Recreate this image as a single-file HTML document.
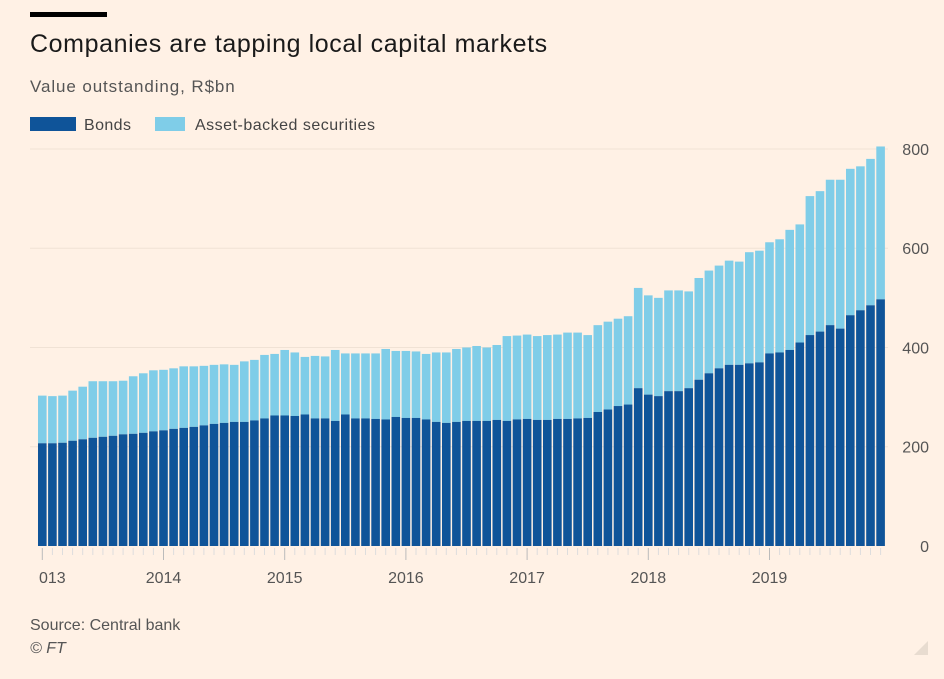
<!DOCTYPE html>
<html><head><meta charset="utf-8"><style>
body{margin:0;background:#fff1e5;font-family:"Liberation Sans",sans-serif;}
#wrap{position:relative;width:944px;height:679px;overflow:hidden;background:#fff1e5;}
</style></head><body>
<div id="wrap">
<div style="position:absolute;left:30px;top:12px;width:77px;height:5px;background:#000"></div>
<div style="position:absolute;left:30px;top:30px;font-size:25px;letter-spacing:0.6px;color:#1a1a1a">Companies are tapping local capital markets</div>
<div style="position:absolute;left:30px;top:77px;font-size:17px;letter-spacing:0.9px;color:#555">Value outstanding, R$bn</div>
<div style="position:absolute;left:30px;top:117px;font-size:16px;letter-spacing:0.4px;color:#444"><span style="display:inline-block;width:46px;height:14px;background:#0f5499;vertical-align:-1px;margin-right:8px"></span>Bonds</div>
<div style="position:absolute;left:155px;top:117px;font-size:16px;letter-spacing:0.5px;color:#444"><span style="display:inline-block;width:30px;height:14px;background:#7fcde8;vertical-align:-1px;margin-right:10px"></span>Asset-backed securities</div>
<svg id="chart" width="944" height="679" style="position:absolute;left:0;top:0"></svg>
<div style="position:absolute;left:30px;top:617px;font-size:16px;color:#555">Source: Central bank</div>
<div style="position:absolute;left:30px;top:640px;font-size:16px;color:#555;font-style:italic">© FT</div>
<div style="position:absolute;left:914px;top:641px;width:0;height:0;border-left:14px solid transparent;border-bottom:14px solid #e8dcd0"></div>
</div>
<script>
const totals=[303,302,303,313,321,332,332,332,333,342,348,354,355,358,362,362,363,365,366,365,372,375,385,387,395,390,381,383,382,395,388,388,388,388,397,393,393,392,387,390,390,397,400,403,400,405,423,424,426,423,425,426,430,430,425,445,452,458,463,520,505,500,515,515,513,540,555,565,575,573,592,595,612,618,637,648,705,715,738,738,760,765,780,805];
const bonds=[207,207,208,212,215,218,220,222,225,226,228,231,233,236,238,240,243,246,248,250,250,253,257,263,263,262,265,257,257,252,265,257,257,256,255,260,258,258,255,250,248,250,252,252,252,254,252,255,256,254,254,256,256,257,258,270,275,282,285,318,305,302,312,312,318,335,348,358,365,365,368,370,388,390,395,410,425,432,445,438,465,475,485,497];
const yTicks=[0,200,400,600,800];
const yearLabels=["013","2014","2015","2016","2017","2018","2019"];
const NS="http://www.w3.org/2000/svg";
const svg=document.getElementById('chart');
const x0=38,step=10.1,bw=8.6;
const y=v=>546-v*0.4963;
const x=i=>x0+i*step;
function el(t,a){const e=document.createElementNS(NS,t);for(const k in a)e.setAttribute(k,a[k]);svg.appendChild(e);return e;}
yTicks.forEach(t=>{
  if(t>0){const g=el('line',{x1:30,x2:888,y1:y(t),y2:y(t),stroke:'#f0e2d5','stroke-width':1});
  
  }
  const tx=el('text',{x:929,y:y(t)+6,'text-anchor':'end','font-size':16,fill:'#555','font-family':'Liberation Sans, sans-serif'});
  tx.textContent=t;
  
  
});
totals.forEach((tv,i)=>{
  const b=bonds[i];
  const r1=el('rect',{x:x(i),y:y(tv),width:bw,height:y(b)-y(tv),fill:'#7fcde8'});
  
  
  const r2=el('rect',{x:x(i),y:y(b),width:bw,height:546-y(b),fill:'#0f5499'});
  
  
  const tk=el('line',{x1:x(i)+bw/2,x2:x(i)+bw/2,y1:548,y2:i%12===0?560:555,stroke:i%12===0?'#bbb':'#ddd','stroke-width':1});
  
  
});
yearLabels.forEach((l,k)=>{
  const i=k*12;
  const tx=el('text',{x:x(i)+bw/2+(k===0?10:0),y:583,'text-anchor':'middle','font-size':16,fill:'#555','font-family':'Liberation Sans, sans-serif'});
  tx.textContent=l;
  
  
});
</script>
</body></html>
